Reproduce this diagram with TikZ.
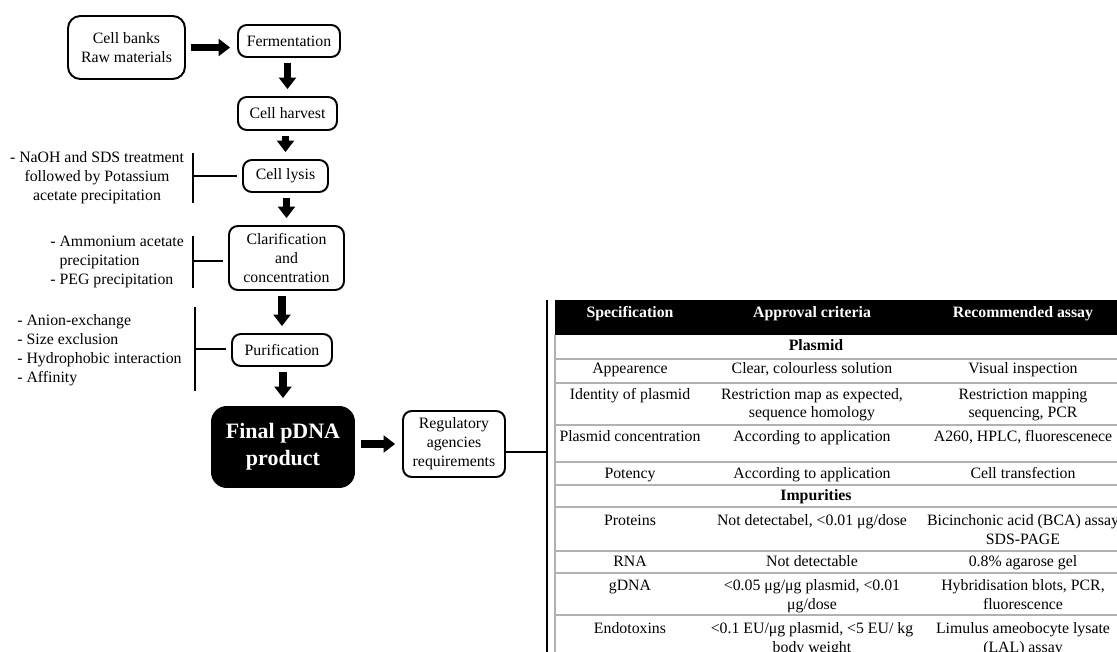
\documentclass[tikz,border=0pt]{standalone}
\usepackage{fontspec}
\setmainfont{Liberation Serif}
\usetikzlibrary{arrows.meta, calc}

\begin{document}
\begin{tikzpicture}[
    x=0.02cm, y=-0.02cm,
    % Process step styles
    stepbox/.style={draw, line width=1.1pt, rounded corners=5pt, align=center, inner sep=0pt, font=\fontsize{9}{10.8}\selectfont},
    sourcebox/.style={stepbox, rounded corners=7pt},
    finalbox/.style={stepbox, draw=none, fill=black, text=white, rounded corners=9pt, font=\bfseries\fontsize{12.5}{15.3}\selectfont},
    flowarrow/.style={-{Triangle[length=6.5pt, width=10pt, line width=0pt]}, line width=4.5pt, shorten <=0.1cm, shorten >=0.14cm},
    % Side notes and brackets
    note/.style={inner sep=0pt, font=\fontsize{9}{10.8}\selectfont},
    bar/.style={line width=1pt},
    % Table styles (base = last line of a cell)
    rowline/.style={draw=gray!60, line width=0.6pt},
    cell/.style={anchor=base, inner sep=0pt, align=center, font=\fontsize{9}{10.8}\selectfont},
    headcell/.style={cell, text=white, font=\bfseries\fontsize{9}{10.8}\selectfont},
    sectioncell/.style={cell, font=\bfseries\fontsize{9}{10.8}\selectfont}
]
\useasboundingbox (0,0) rectangle (1117,652);
\clip (0,0) rectangle (1117,652);

% Process steps
\node[sourcebox, minimum width=2.34cm, minimum height=1.26cm] (sources) at (126.5,47.5) {Cell banks\\Raw materials};
\node[stepbox, minimum width=2.04cm, minimum height=0.64cm] (ferment) at (289,41) {Fermentation};
\node[stepbox, minimum width=1.98cm, minimum height=0.66cm] (harvest) at (287.5,113.5) {Cell harvest};
\node[stepbox, minimum width=1.7cm, minimum height=0.64cm] (lysis) at (285.5,176) {Cell lysis};
\node[stepbox, minimum width=2.3cm, minimum height=1.28cm] (clarify) at (286.5,258) {Clarification\\and\\concentration};
\node[stepbox, minimum width=2cm, minimum height=0.64cm] (purify) at (282,350) {Purification};
\node[finalbox, minimum width=2.88cm, minimum height=1.64cm] (product) at (283,447) {Final pDNA\\product};
\node[stepbox, minimum width=2.04cm, minimum height=1.32cm] (regulators) at (454,444) {Regulatory\\agencies\\requirements};

% Block arrows between steps
\draw[flowarrow] (sources.east) -- (sources.east -| ferment.west);
\foreach \a/\b in {ferment/harvest, harvest/lysis, lysis/clarify, clarify/purify, purify/product} {
    \draw[flowarrow] (\a.south -| \b.north) -- (\b.north);
}
\draw[flowarrow] (product.east |- regulators.west) -- (regulators.west);

% Side notes
\node[note, align=center] (lysis-note) at (97,178) {- NaOH and SDS treatment\\followed by Potassium\\acetate precipitation};
\node[note, align=left, anchor=west] (clarify-note) at (50,262) {- Ammonium acetate\\\phantom{- }precipitation\\- PEG precipitation};
\node[note, align=left, anchor=west] (purify-note) at (17,350) {- Anion-exchange\\- Size exclusion\\- Hydrophobic interaction\\- Affinity};

% Brackets joining notes to steps
\coordinate (lysis-bar) at (193,176);
\coordinate (clarify-bar) at (193,261);
\coordinate (purify-bar) at (195,349);
\foreach \s/\lo/\hi in {lysis/23/27, clarify/25/27, purify/42/42} {
    \draw[bar] ($(\s-bar)+(0,-\lo)$) -- ($(\s-bar)+(0,\hi)$);
    \draw[bar] (\s-bar) -- ($(\s-bar -| \s.west)+(-5,0)$);
}

% Bracket to the table
\coordinate (table-bar) at (547,452);
\draw[bar, line width=1.6pt] (547,300) -- (547,660);
\draw[bar] (regulators.east |- table-bar) -- (table-bar);

% Table header
\fill[black] (555,300) rectangle (1130,335);
\foreach \x/\t [count=\colnum] in {630/Specification, 812/Approval criteria, 1023/Recommended assay} {
    \node[headcell] (head-\colnum) at (\x,317) {\t};
}

% Table rules
\draw[rowline] (555,335) -- (555,660);
\foreach \y in {359,383,425,462,485,507,551,573,615} {
    \draw[rowline] (555,\y) -- (1130,\y);
}

% Section titles
\node[sectioncell] (plasmid) at (816,351) {Plasmid};
\node[sectioncell] (impurities) at (816,500) {Impurities};

% Table rows
\node[cell] (spec-1) at (630,374) {Appearence};
\node[cell] (crit-1) at (812,374) {Clear, colourless solution};
\node[cell] (assay-1) at (1023,374) {Visual inspection};

\node[cell] (spec-2) at (630,399) {Identity of plasmid};
\node[cell] (crit-2) at (812,418) {Restriction map as expected,\\sequence homology};
\node[cell] (assay-2) at (1023,418) {Restriction mapping\\sequencing, PCR};

\node[cell] (spec-3) at (630,441) {Plasmid concentration};
\node[cell] (crit-3) at (812,441) {According to application};
\node[cell] (assay-3) at (1023,441) {A260, HPLC, fluorescenece};

\node[cell] (spec-4) at (630,478) {Potency};
\node[cell] (crit-4) at (812,478) {According to application};
\node[cell] (assay-4) at (1023,478) {Cell transfection};

\node[cell] (spec-5) at (630,525) {Proteins};
\node[cell] (crit-5) at (812,525) {Not detectabel, <0.01 μg/dose};
\node[cell] (assay-5) at (1023,544) {Bicinchonic acid (BCA) assay\\SDS-PAGE};

\node[cell] (spec-6) at (630,566) {RNA};
\node[cell] (crit-6) at (812,566) {Not detectable};
\node[cell] (assay-6) at (1023,566) {0.8\% agarose gel};

\node[cell] (spec-7) at (630,590) {gDNA};
\node[cell] (crit-7) at (812,609) {<0.05 μg/μg plasmid, <0.01\\μg/dose};
\node[cell] (assay-7) at (1023,609) {Hybridisation blots, PCR,\\fluorescence};

\node[cell] (spec-8) at (630,633) {Endotoxins};
\node[cell] (crit-8) at (812,652) {<0.1 EU/μg plasmid, <5 EU/ kg\\body weight};
\node[cell] (assay-8) at (1023,652) {Limulus ameobocyte lysate\\(LAL) assay};

\end{tikzpicture}
\end{document}
